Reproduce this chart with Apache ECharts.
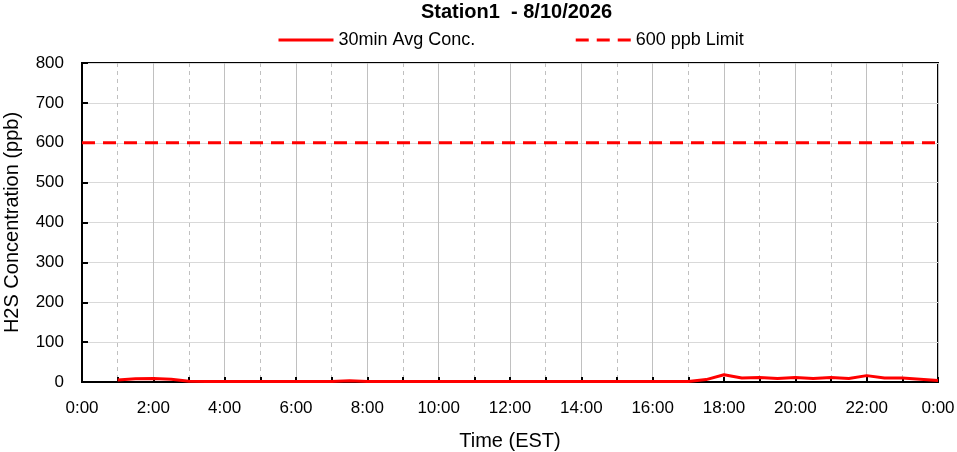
<!DOCTYPE html>
<html>
<head>
    <meta charset="UTF-8">
    <title>Station1</title>
    <style type="text/css">
        html, body { margin: 0; padding: 0; background: #fff; }
        #chart { width: 957px; height: 452px; }
    </style>
    <script type="text/javascript" src="https://cdn.jsdelivr.net/npm/echarts@6/dist/echarts.min.js"></script>
</head>
<body>
<div id="chart"></div>
<script type="text/javascript">
    // hours since midnight of each 30-min average (24 = next 0:00)
    var times = [1, 1.5, 2, 2.5, 3, 3.5, 4, 4.5, 5, 5.5, 6, 6.5, 7, 7.5, 8, 8.5,
        9, 9.5, 10, 10.5, 11, 11.5, 12, 12.5, 13, 13.5, 14, 14.5, 15, 15.5, 16, 16.5,
        17, 17.5, 18, 18.5, 19, 19.5, 20, 20.5, 21, 21.5, 22, 22.5, 23, 23.5, 24];
    var conc = [5, 8, 9, 7, 2, 1, 1, 1, 1, 1, 1, 1, 1, 3, 1, 1,
        1, 1, 1, 1, 1, 1, 1, 1, 1, 1, 1, 1, 1, 1, 1, 1,
        1, 6, 18, 10, 11, 9, 11, 9, 11, 9, 16, 10, 10, 7, 4];
    var limitX = [0, 24];
    var limitY = [600, 600];
    var seriesNames = ['30min Avg Conc.', '600 ppb Limit'];

    var font = "'Liberation Sans', Arial, sans-serif";
    var chart = echarts.init(document.getElementById('chart'));

    var option = {
        animation: false,
        title: {
            text: 'Station1  - 8/10/2026',
            left: 416,
            top: -3,
            textStyle: {fontFamily: font, fontSize: 20, fontWeight: 'bold', color: '#000'}
        },
        legend: {
            top: 26,
            left: 272,
            itemGap: 99,
            itemWidth: 55,
            itemHeight: 14,
            itemStyle: {opacity: 0},
            lineStyle: {width: 3},
            textStyle: {fontFamily: font, fontSize: 18, color: '#000'},
            data: seriesNames
        },
        grid: {
            left: 82,
            right: 19,
            top: 63,
            bottom: 70,
            outerBoundsMode: 'none',
            show: true,
            borderColor: '#000',
            borderWidth: 2
        },
        xAxis: {
            type: 'value',
            min: 0,
            max: 24,
            interval: 2,
            name: 'Time (EST)',
            nameLocation: 'middle',
            nameGap: 49,
            nameTextStyle: {fontFamily: font, fontSize: 20, color: '#000'},
            axisLine: {lineStyle: {color: '#000', width: 2}},
            axisTick: {inside: true, length: 5, lineStyle: {color: '#000', width: 2}},
            minorTick: {show: true, splitNumber: 2, length: 5, lineStyle: {color: '#000', width: 2}},
            axisLabel: {
                margin: 18,
                fontFamily: font, fontSize: 17, color: '#000',
                formatter: function (val) {
                    return (val % 24) + ':00';
                }
            },
            splitLine: {show: true, lineStyle: {color: '#c0c0c0', width: 1}},
            minorSplitLine: {show: true, lineStyle: {color: '#c0c0c0', width: 1, type: [4, 4]}}
        },
        yAxis: {
            type: 'value',
            min: 0,
            max: 800,
            interval: 100,
            name: 'H2S Concentration (ppb)',
            nameLocation: 'middle',
            nameGap: 60,
            nameTextStyle: {fontFamily: font, fontSize: 20, color: '#000'},
            axisLine: {show: true, lineStyle: {color: '#000', width: 2}},
            axisTick: {show: true, inside: true, length: 6, lineStyle: {color: '#000', width: 2}},
            axisLabel: {margin: 18, fontFamily: font, fontSize: 17, color: '#000'},
            splitLine: {show: true, lineStyle: {color: '#d9d9d9', width: 1}}
        },
        series: [
            {
                name: seriesNames[0],
                type: 'line',
                data: times.map(function (t, i) { return [t, conc[i]]; }),
                showSymbol: false,
                symbol: 'none',
                color: '#ff0000',
                lineStyle: {color: '#ff0000', width: 3},
                z: 3
            },
            {
                name: seriesNames[1],
                type: 'line',
                data: limitX.map(function (t, i) { return [t, limitY[i]]; }),
                showSymbol: false,
                symbol: 'none',
                color: '#ff0000',
                lineStyle: {color: '#ff0000', width: 3, type: [13, 8]},
                z: 2
            }
        ]
    };
    chart.setOption(option);
</script>
</body>
</html>
